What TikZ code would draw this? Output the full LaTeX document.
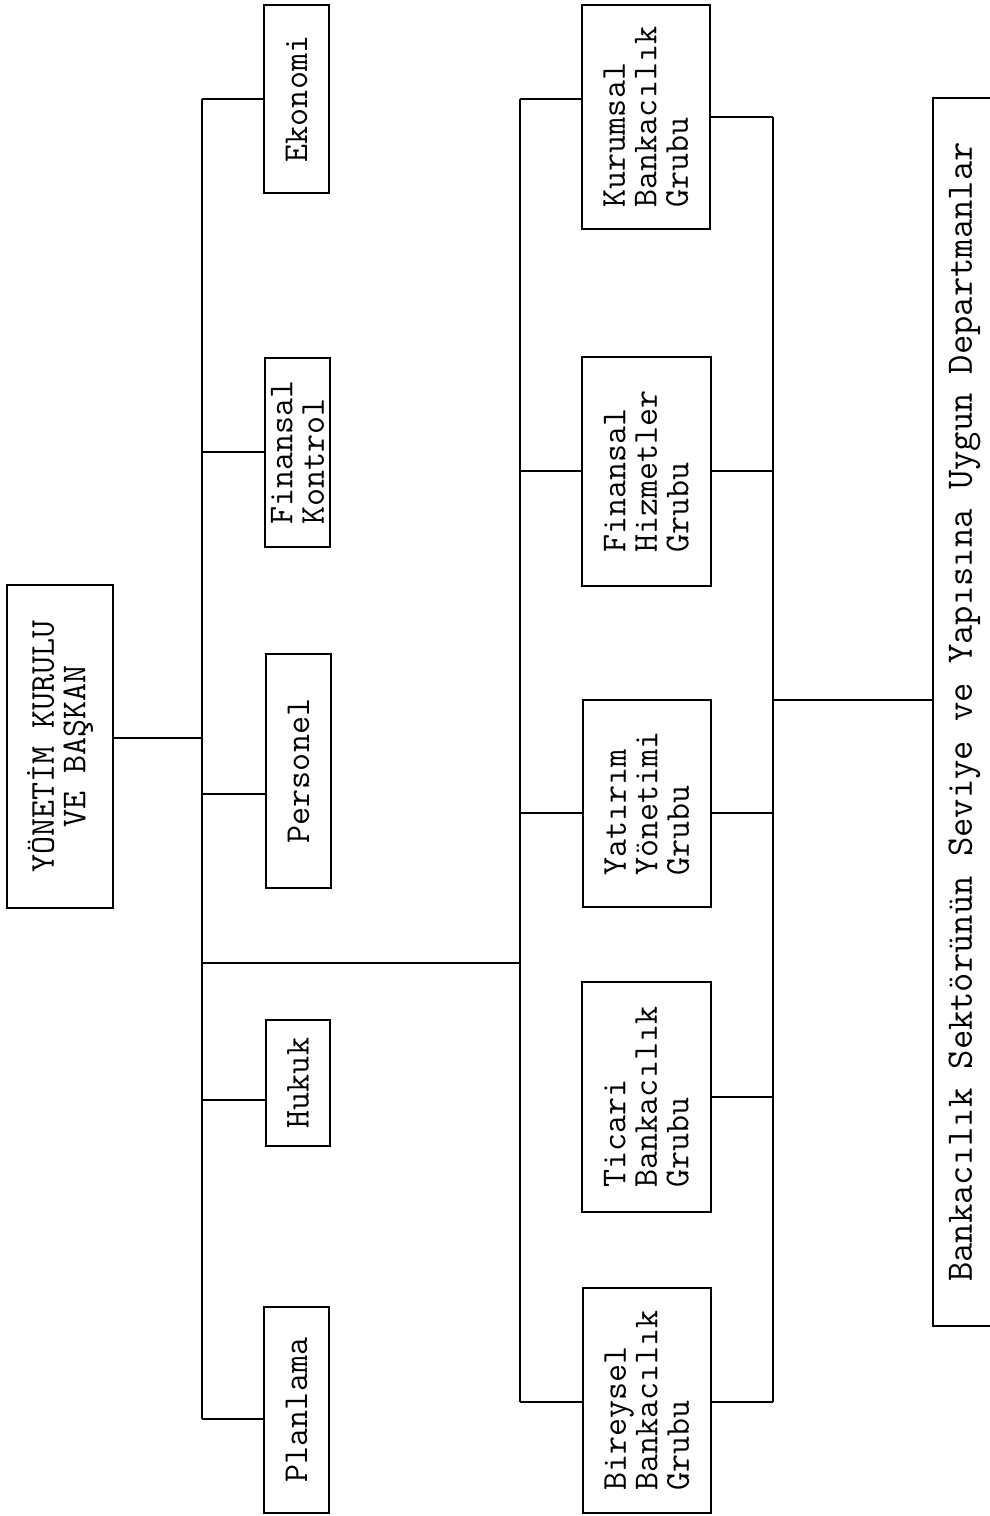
\documentclass[tikz,border=0pt]{standalone}
\usepackage{fontspec}
\begin{document}
\begin{tikzpicture}[x=1pt,y=-1pt,
  box/.style={draw, line width=1.8pt, rotate=90, inner sep=0pt, align=left,
    font=\ttfamily\fontsize{35}{31.5}\selectfont},
  conn/.style={line width=1.8pt}]
\useasboundingbox (0,0) rectangle (990,1516);
\begin{scope}
\clip (0,0) rectangle (990,1516);
% top
\node[box, align=center, minimum width=323pt, minimum height=106pt] (yk) at (60,746.5) {YÖNETİM KURULU\\VE BAŞKAN};
% column 1
\node[box, minimum width=188pt, minimum height=65pt] (ek) at (296.5,99) {Ekonomi};
\node[box, minimum width=189pt, minimum height=65pt] (fk) at (297.5,452.5) {Finansal\\Kontrol};
\node[box, minimum width=234pt, minimum height=65pt] (pe) at (298.5,771) {Personel};
\node[box, minimum width=126pt, minimum height=64pt] (hu) at (298,1083) {Hukuk};
\node[box, minimum width=206pt, minimum height=65pt] (pl) at (296.5,1410) {Planlama};
% column 2
\node[box, minimum width=224pt, minimum height=128pt] (ku) at (646,117) {Kurumsal\\Bankacılık\\Grubu};
\node[box, minimum width=229pt, minimum height=129pt] (fh) at (646.5,471.5) {Finansal\\Hizmetler\\Grubu};
\node[box, minimum width=207pt, minimum height=128pt] (ya) at (647,803.5) {Yatırım\\Yönetimi\\Grubu};
\node[box, minimum width=230pt, minimum height=129pt] (ti) at (646.5,1097) {Ticari\\Bankacılık\\Grubu};
\node[box, minimum width=225pt, minimum height=128pt] (bi) at (647,1400.5) {Bireysel\\Bankacılık\\Grubu};
% departments
\node[box, minimum width=1228pt, minimum height=63pt,
  font=\ttfamily\fontsize{37.5}{40}\selectfont] (dep) at (964.5,712)
  {Bankacılık Sektörünün Seviye ve Yapısına Uygun Departmanlar};
% spine A
\coordinate (a1) at (202,99);
\coordinate (a2) at (202,452);
\coordinate (a3) at (202,738);
\coordinate (a4) at (202,794);
\coordinate (a5) at (202,963);
\coordinate (a6) at (202,1100);
\coordinate (a7) at (202,1419);
% spine B
\coordinate (b1) at (520,99);
\coordinate (b2) at (520,471);
\coordinate (b3) at (520,813);
\coordinate (b4) at (520,963);
\coordinate (b5) at (520,1402);
% spine C
\coordinate (c1) at (773,117);
\coordinate (c2) at (773,471);
\coordinate (c3) at (773,700);
\coordinate (c4) at (773,813);
\coordinate (c5) at (773,1097);
\coordinate (c6) at (773,1402);
\draw[conn] (a1) -- (a7);
\draw[conn] (b1) -- (b5);
\draw[conn] (c1) -- (c6);
\draw[conn] (yk.south |- a3) -- (a3);
\draw[conn] (a1) -- (ek.north |- a1);
\draw[conn] (a2) -- (fk.north |- a2);
\draw[conn] (a4) -- (pe.north |- a4);
\draw[conn] (a6) -- (hu.north |- a6);
\draw[conn] (a7) -- (pl.north |- a7);
\draw[conn] (a5) -- (b4);
\draw[conn] (b1) -- (ku.north |- b1);
\draw[conn] (b2) -- (fh.north |- b2);
\draw[conn] (b3) -- (ya.north |- b3);
\draw[conn] (b5) -- (bi.north |- b5);
\draw[conn] (ku.south |- c1) -- (c1);
\draw[conn] (fh.south |- c2) -- (c2);
\draw[conn] (ya.south |- c4) -- (c4);
\draw[conn] (ti.south |- c5) -- (c5);
\draw[conn] (bi.south |- c6) -- (c6);
\draw[conn] (c3) -- (dep.north |- c3);
\end{scope}
\end{tikzpicture}
\end{document}
